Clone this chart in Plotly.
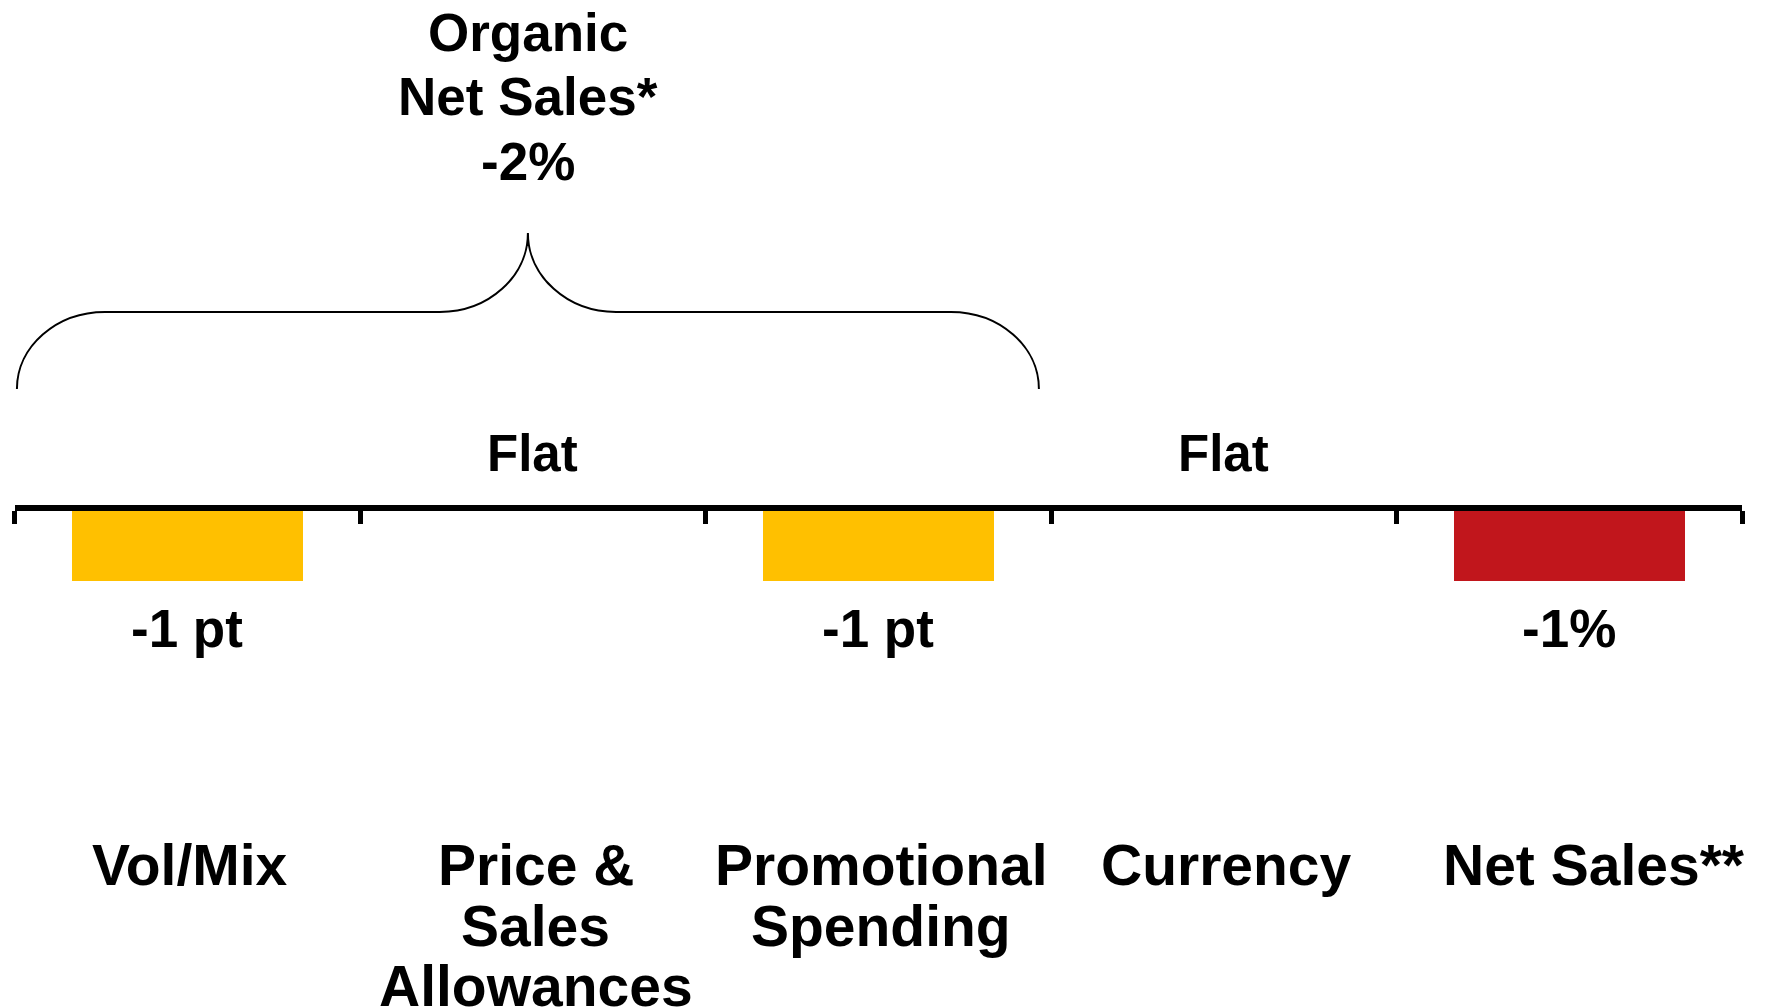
import plotly.graph_objects as go

# ---- data -------------------------------------------------------------
categories = ["Vol/Mix", "Price & Sales Allowances", "Promotional Spending",
              "Currency", "Net Sales**"]
category_lines = [["Vol/Mix"], ["Price &", "Sales", "Allowances"],
                  ["Promotional", "Spending"], ["Currency"], ["Net Sales**"]]
values = [-1, 0, -1, 0, -1]
value_labels = ["-1 pt", "Flat", "-1 pt", "Flat", "-1%"]
organic_lines = ["Organic", "Net Sales*", "-2%"]
organic_span = [0, 2]          # categories grouped under the brace

# ---- styling ----------------------------------------------------------
W, H = 1767, 1008
YELLOW, RED = "#FFC000", "#C1161C"
bar_colors = [YELLOW, YELLOW, YELLOW, YELLOW, RED]
FONT = "Liberation Sans, Arial, sans-serif"

px_per_unit = 73.0             # vertical scale
zero_px = 508.0                # pixel row of the zero line
y_max = zero_px / px_per_unit
y_min = -(H - zero_px) / px_per_unit
x_left_px, x_right_px = 14.5, 1742.0
n = len(categories)
xs = list(range(n))


def py_paper(py):
    return 1 - py / H


fig = go.Figure()
fig.add_trace(go.Bar(
    x=xs, y=values, base=0, width=0.669,
    marker=dict(color=bar_colors[:n], line=dict(width=0)),
    hoverinfo="skip", showlegend=False,
))

annotations = []

# value labels: below a negative bar, above the axis for zero
for x, v, lab in zip(xs, values, value_labels):
    if v < 0:
        annotations.append(dict(x=x, y=v, xref="x", yref="y", text=lab,
                                showarrow=False, yanchor="middle", yshift=-47,
                                font=dict(size=53)))
    else:
        annotations.append(dict(x=x, y=v, xref="x", yref="y", text=lab,
                                showarrow=False, yanchor="middle", yshift=55,
                                font=dict(size=51)))

# category names under the chart, one annotation per line
line_rows = [865, 926, 986]
for i, (x, lines) in enumerate(zip(xs, category_lines)):
    shift = 25 if lines[-1].endswith("**") else 3
    for row, txt in zip(line_rows, lines):
        annotations.append(dict(x=x, y=py_paper(row), xref="x", yref="paper",
                                text=txt, showarrow=False, yanchor="middle",
                                xshift=shift, font=dict(size=57)))

# curly brace over the organic components (heights in px above the axis)
base_h, flat_h, tip_h = 119, 196, 275
xl = organic_span[0] - 0.493
xr = organic_span[1] + 0.465
xm = (xl + xr) / 2
yb, yf, yt = base_h / px_per_unit, flat_h / px_per_unit, tip_h / px_per_unit
rx = 0.255
k = 0.5523
brace = (
    f"M {xl},{yb} "
    f"C {xl},{yb + k * (yf - yb)} {xl + rx - k * rx},{yf} {xl + rx},{yf} "
    f"L {xm - rx},{yf} "
    f"C {xm - rx + k * rx},{yf} {xm},{yt - k * (yt - yf)} {xm},{yt} "
    f"C {xm},{yt - k * (yt - yf)} {xm + rx - k * rx},{yf} {xm + rx},{yf} "
    f"L {xr - rx},{yf} "
    f"C {xr - rx + k * rx},{yf} {xr},{yb + k * (yf - yb)} {xr},{yb}"
)
shapes = [dict(type="path", path=brace, xref="x", yref="y",
               line=dict(color="black", width=2))]

for row, txt in zip([33, 97, 161], organic_lines):
    annotations.append(dict(x=xm, y=py_paper(row), xref="x", yref="paper",
                            text=txt, showarrow=False, yanchor="middle",
                            font=dict(size=53)))

fig.update_layout(
    width=W, height=H,
    margin=dict(l=0, r=0, t=0, b=0),
    paper_bgcolor="white", plot_bgcolor="white",
    font=dict(family=FONT, color="black", weight="bold"),
    showlegend=False,
    bargap=0,
    xaxis=dict(
        domain=[x_left_px / W, x_right_px / W],
        range=[-0.5, n - 0.5],
        anchor="free",
        position=(0 - y_min) / (y_max - y_min),
        showline=True, linewidth=6, linecolor="black",
        ticks="outside", ticklen=13, tickwidth=5, tickcolor="black",
        tickvals=[i - 0.5 for i in range(n + 1)],
        showticklabels=False, showgrid=False, zeroline=False,
        fixedrange=True,
    ),
    yaxis=dict(range=[y_min, y_max], visible=False, domain=[0, 1],
               fixedrange=True),
    annotations=annotations,
    shapes=shapes,
)

fig.write_html("out.html")
